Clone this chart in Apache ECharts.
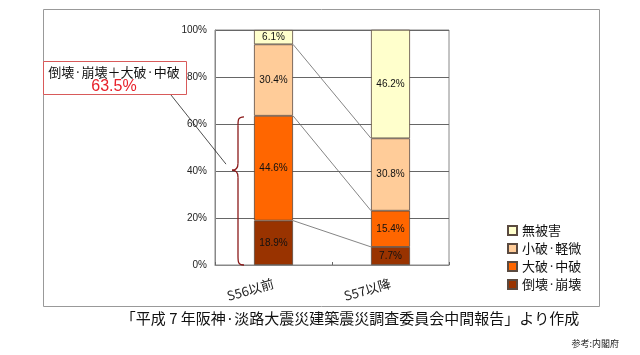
<!DOCTYPE html>
<html>
<head>
<meta charset="utf-8">
<script src="https://cdn.jsdelivr.net/npm/echarts@6/dist/echarts.min.js"></script>
<style>html,body{margin:0;padding:0;background:#fff;}#c{width:640px;height:355px;}</style>
</head>
<body>
<div id="c"></div>
<script>
var categories = ['S56以前', 'S57以降'];
var seriesNames = ['倒壊·崩壊', '大破·中破', '小破·軽微', '無被害'];
var collapse = [18.9, 7.7];
var heavy = [44.6, 15.4];
var light = [30.4, 30.8];
var none = [6.1, 46.2];
var colors = ['#993300', '#FF6600', '#FFCC99', '#FFFFCC'];
var yTicks = [0, 20, 40, 60, 80, 100];
var annotationTitle = '倒壊·崩壊＋大破·中破';
var annotationValue = '63.5%';
var caption = '「平成 7 年阪神·淡路大震災建築震災調査委員会中間報告」より作成';
var sourceNote = '参考:内閣府';

var BAR_W = 39;
var stacks = [collapse, heavy, light, none];
var cum = [];
var acc = [0, 0];
for (var i = 0; i < stacks.length - 1; i++) {
  acc = [acc[0] + stacks[i][0], acc[1] + stacks[i][1]];
  cum.push([acc[0], acc[1]]);
}

var chart = echarts.init(document.getElementById('c'), null, {renderer: 'canvas'});
var font = 'Liberation Sans, Arial, sans-serif';
var cjk = '"Noto Sans CJK JP", sans-serif';

var barSeries = seriesNames.map(function (n, idx) {
  return {
    name: n,
    type: 'bar',
    stack: 'total',
    barWidth: BAR_W,
    data: stacks[idx],
    itemStyle: {color: colors[idx], borderColor: '#5a4a40', borderWidth: 0.8},
    label: {
      show: true, position: 'inside', color: '#111',
      fontSize: 10, fontFamily: font,
      formatter: function (p) { return p.value + '%'; }
    },
    z: 3
  };
});

var linkSeries = {
  type: 'custom',
  name: 'links',
  data: cum.map(function (c) { return [c[0], c[1]]; }),
  renderItem: function (params, api) {
    var a = api.coord([0, api.value(0)]);
    var b = api.coord([1, api.value(1)]);
    return {
      type: 'line',
      shape: {x1: a[0] + BAR_W / 2, y1: a[1], x2: b[0] - BAR_W / 2, y2: b[1]},
      style: {stroke: '#666', lineWidth: 0.8}
    };
  },
  silent: true,
  z: 2
};

chart.setOption({
  animation: false,
  backgroundColor: '#fff',
  grid: {left: 215, right: 191, top: 30, bottom: 90, show: true, borderColor: '#888', borderWidth: 1, backgroundColor: 'transparent'},
  xAxis: {
    type: 'category',
    data: categories,
    axisLine: {lineStyle: {color: '#888'}},
    axisTick: {show: true, inside: true, length: 3, lineStyle: {color: '#666'}},
    axisLabel: {rotate: 16, margin: 18, fontSize: 13, color: '#222', fontFamily: cjk}
  },
  yAxis: {
    type: 'value',
    min: yTicks[0], max: yTicks[yTicks.length - 1], interval: 20,
    axisLine: {show: true, lineStyle: {color: '#888'}},
    axisTick: {show: false},
    axisLabel: {formatter: '{value}%', fontSize: 10, color: '#222', fontFamily: font, margin: 8},
    splitLine: {lineStyle: {color: '#666', width: 1}}
  },
  legend: {
    orient: 'vertical',
    left: 507, top: 224, padding: 0,
    itemWidth: 9, itemHeight: 9, itemGap: 5,
    icon: 'rect',
    data: ['無被害', '小破·軽微', '大破·中破', '倒壊·崩壊'],
    textStyle: {fontSize: 13, color: '#111', fontFamily: cjk}
  },
  series: barSeries.concat([linkSeries])
});

function drawGraphics() {
  var topCum = cum[1][0];
  var pTop = chart.convertToPixel({gridIndex: 0}, [0, topCum]);
  var pBot = chart.convertToPixel({gridIndex: 0}, [0, 0]);
  var yT = pTop[1] + 1, yB = pBot[1];
  var xR = 244, xM = 238, xL = 232;
  var yC = yT + (yB - yT) * 0.36;
  var bs = {fill: 'none', stroke: '#8b1a1a', lineWidth: 1.3};
  var braceParts = [
    {type: 'bezierCurve', shape: {x1: xR, y1: yT, cpx1: xM, cpy1: yT, cpx2: xM, cpy2: yT + 3, x2: xM, y2: yT + 9}, style: bs, z: 10},
    {type: 'line', shape: {x1: xM, y1: yT + 9, x2: xM, y2: yC - 7}, style: bs, z: 10},
    {type: 'bezierCurve', shape: {x1: xM, y1: yC - 7, cpx1: xM, cpy1: yC - 2, cpx2: xM - 2, cpy2: yC, x2: xL, y2: yC}, style: bs, z: 10},
    {type: 'bezierCurve', shape: {x1: xL, y1: yC, cpx1: xM - 2, cpy1: yC, cpx2: xM, cpy2: yC + 2, x2: xM, y2: yC + 7}, style: bs, z: 10},
    {type: 'line', shape: {x1: xM, y1: yC + 7, x2: xM, y2: yB - 9}, style: bs, z: 10},
    {type: 'bezierCurve', shape: {x1: xM, y1: yB - 9, cpx1: xM, cpy1: yB - 3, cpx2: xM, cpy2: yB, x2: xR, y2: yB}, style: bs, z: 10}
  ];

  chart.setOption({
    graphic: [
      {type: 'rect', silent: true, z: -1, shape: {x: 43.5, y: 9.5, width: 556, height: 297},
        style: {fill: 'none', stroke: '#999', lineWidth: 1}},
      {type: 'line', shape: {x1: 171, y1: 95, x2: 226, y2: yC - 6}, style: {stroke: '#222', lineWidth: 0.8}, z: 10},
      {type: 'rect', shape: {x: 43.5, y: 61.5, width: 143, height: 33},
        style: {fill: '#fff', stroke: '#d85a5a', lineWidth: 1}, z: 11},
      {type: 'text', x: 114, y: 72, style: {text: annotationTitle, fontSize: 13, fontFamily: cjk, fill: '#111', align: 'center', verticalAlign: 'middle'}, z: 12},
      {type: 'text', x: 114, y: 87, style: {text: annotationValue, fontSize: 16, fontFamily: font, fill: '#e8202a', align: 'center', verticalAlign: 'middle'}, z: 12},
      {type: 'text', x: 350, y: 318, style: {text: caption, fontSize: 15, fontFamily: cjk, fill: '#111', align: 'center', verticalAlign: 'middle'}, z: 12},
      {type: 'text', x: 619, y: 344, style: {text: sourceNote, fontSize: 9, fontFamily: cjk, fill: '#222', align: 'right', verticalAlign: 'middle'}, z: 12}
    ].concat(braceParts)
  });
}
drawGraphics();
</script>
</body>
</html>
